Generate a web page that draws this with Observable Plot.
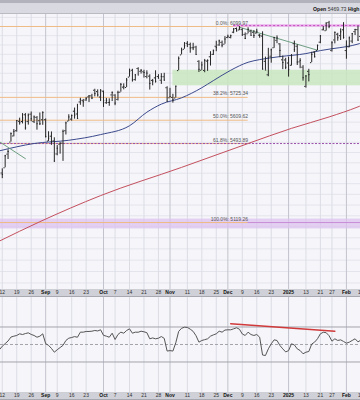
<!DOCTYPE html>
<html><head><meta charset="utf-8">
<script src="https://cdn.jsdelivr.net/npm/d3@7"></script>
<script src="https://cdn.jsdelivr.net/npm/@observablehq/plot@0.6"></script>
<style>
html,body{margin:0;padding:0;background:#fff;}
#wrap{width:360px;height:400px;overflow:hidden;position:relative;font-family:"Liberation Sans",Arial,sans-serif;}
#hdr{height:14px;position:relative;overflow:hidden;background:linear-gradient(to bottom,#b1b2bb 0,#b1b2bb 3px,#d9dae1 3px,#d9dae1 13px,#b9bac2 13px,#b9bac2 14px);}
#hdr .t{position:absolute;left:313px;top:6px;font-size:5.2px;line-height:6px;white-space:nowrap;color:#111;}
#price{height:283px;background:linear-gradient(to bottom,#f5f5fa 0,#f5f5fa 275px,#a7a8b0 275px,#a7a8b0 276px,#d0d1d8 276px,#d0d1d8 282px,#a7a8b0 282px,#a7a8b0 283px);}
#rsi{height:103px;background:linear-gradient(to bottom,#f5f5fa 0,#f5f5fa 95px,#a7a8b0 95px,#a7a8b0 96px,#d0d1d8 96px,#d0d1d8 102px,#a7a8b0 102px,#a7a8b0 103px);}
svg{display:block}
</style></head>
<body>
<div id="wrap">
  <div id="hdr"><div class="t"><b>Open</b> <span style="color:#333">5469.73</span> <b>High</b></div></div>
  <div id="price"></div>
  <div id="rsi"></div>
</div>
<script>
// ---------- DATA ----------
const dates = [
"2024-08-05","2024-08-06","2024-08-07","2024-08-08","2024-08-09",
"2024-08-12","2024-08-13","2024-08-14","2024-08-15","2024-08-16",
"2024-08-19","2024-08-20","2024-08-21","2024-08-22","2024-08-23",
"2024-08-26","2024-08-27","2024-08-28","2024-08-29","2024-08-30",
"2024-09-03","2024-09-04","2024-09-05","2024-09-06",
"2024-09-09","2024-09-10","2024-09-11","2024-09-12","2024-09-13",
"2024-09-16","2024-09-17","2024-09-18","2024-09-19","2024-09-20",
"2024-09-23","2024-09-24","2024-09-25","2024-09-26","2024-09-27",
"2024-09-30","2024-10-01","2024-10-02","2024-10-03","2024-10-04",
"2024-10-07","2024-10-08","2024-10-09","2024-10-10","2024-10-11",
"2024-10-14","2024-10-15","2024-10-16","2024-10-17","2024-10-18",
"2024-10-21","2024-10-22","2024-10-23","2024-10-24","2024-10-25",
"2024-10-28","2024-10-29","2024-10-30","2024-10-31","2024-11-01",
"2024-11-04","2024-11-05","2024-11-06","2024-11-07","2024-11-08",
"2024-11-11","2024-11-12","2024-11-13","2024-11-14","2024-11-15",
"2024-11-18","2024-11-19","2024-11-20","2024-11-21","2024-11-22",
"2024-11-25","2024-11-26","2024-11-27","2024-11-29",
"2024-12-02","2024-12-03","2024-12-04","2024-12-05","2024-12-06",
"2024-12-09","2024-12-10","2024-12-11","2024-12-12","2024-12-13",
"2024-12-16","2024-12-17","2024-12-18","2024-12-19","2024-12-20",
"2024-12-23","2024-12-24","2024-12-26","2024-12-27",
"2024-12-30","2024-12-31","2025-01-02","2025-01-03",
"2025-01-06","2025-01-07","2025-01-08","2025-01-10",
"2025-01-13","2025-01-14","2025-01-15","2025-01-16","2025-01-17",
"2025-01-21","2025-01-22","2025-01-23","2025-01-24",
"2025-01-27","2025-01-28","2025-01-29","2025-01-30","2025-01-31",
"2025-02-03","2025-02-04","2025-02-05","2025-02-06","2025-02-07",
"2025-02-10"];

const opens = [
5151,5206,5293,5252,5314, 5351,5376,5442,5501,5531, 5557,5604,5603,5637,5603, 5640,5603,5624,5607,5612,
5612,5506,5530,5507, 5443,5490,5496,5557,5605, 5615,5655,5641,5702,5709, 5712,5728,5733,5762,5755,
5727,5757,5698,5699,5738, 5737,5715,5752,5778,5776, 5830,5866,5817,5875,5860, 5858,5833,5835,5813,5826,
5833,5814,5832,5775,5723, 5725,5722,5864,5947,5977, 6009,6003,5985,5989,5913, 5866,5865,5914,5937,5950,
5993,6000,6014,6004, 6040,6041,6069,6089,6081, 6083,6057,6060,6074,6068, 6064,6053,6048,5913,5842,
5940,5985,6025,6006, 5921,5920,5904,5892, 6007,5993,5910,5882, 5782,5860,5906,5962,5970,
6015,6082,6077,6121, 5970,6027,6058,6050,6082, 5970,5990,6021,6072,6083, 6046];

const highs = [
5250,5312,5330,5328,5358, 5371,5436,5463,5546,5563, 5608,5620,5643,5643,5641, 5651,5631,5628,5646,5652,
5616,5552,5551,5522, 5484,5497,5560,5600,5637, 5636,5671,5690,5721,5715, 5725,5735,5741,5767,5764,
5765,5758,5720,5718,5753, 5739,5757,5797,5795,5823, 5872,5871,5843,5879,5870, 5866,5863,5842,5818,5863,
5843,5848,5850,5780,5772, 5741,5783,5936,5983,6013, 6018,6010,6009,5993,5916, 5909,5923,5921,5964,5973,
6020,6026,6021,6045, 6053,6053,6089,6092,6100, 6088,6065,6093,6080,6078, 6085,6057,6071,5935,5982,
5978,6041,6049,6007, 5941,5929,5935,5949, 6021,6001,5927,5890, 5838,5871,5961,5964,6000,
6051,6100,6119,6128, 6018,6070,6063,6087,6121, 6022,6043,6062,6084,6101, 6073];

const lows = [
5119,5193,5195,5242,5300, 5324,5376,5416,5501,5527, 5550,5585,5591,5560,5585, 5602,5593,5560,5583,5584,
5521,5504,5485,5403, 5434,5442,5407,5536,5604, 5605,5615,5615,5685,5675, 5705,5699,5714,5728,5727,
5704,5674,5690,5680,5704, 5683,5707,5752,5764,5776, 5830,5804,5809,5840,5846, 5825,5821,5763,5785,5799,
5822,5792,5810,5703,5723, 5696,5722,5864,5947,5977, 5986,5956,5970,5947,5854, 5865,5853,5860,5888,5944,
5964,5993,5985,6004, 6034,6033,6061,6071,6077, 6048,6029,6060,6050,6035, 6060,6036,5867,5866,5832,
5903,5982,6007,5932, 5869,5869,5830,5888, 5960,5891,5874,5809, 5773,5805,5906,5931,5970,
6007,6076,6075,6088, 5962,6006,6020,6024,6031, 5924,5985,6007,6051,6020, 6044];

const closes = [
5186,5240,5200,5319,5344, 5344,5434,5455,5543,5554, 5608,5597,5621,5571,5635, 5617,5626,5592,5592,5648,
5529,5520,5503,5408, 5471,5496,5554,5596,5626, 5633,5635,5618,5714,5703, 5719,5733,5722,5745,5738,
5762,5709,5710,5700,5751, 5696,5751,5792,5780,5815, 5860,5815,5842,5841,5865, 5854,5851,5797,5810,5808,
5824,5833,5814,5705,5729, 5713,5783,5929,5973,5996, 6001,5984,5985,5949,5871, 5894,5917,5917,5949,5969,
5987,6022,5999,6032, 6047,6050,6086,6075,6090, 6053,6035,6084,6051,6051, 6074,6051,5872,5867,5931,
5974,6040,6038,5971, 5907,5882,5869,5942, 5975,5909,5918,5827, 5836,5843,5950,5937,5997,
6049,6086,6119,6101, 6012,6068,6039,6071,6041, 5995,6038,6061,6084,6026, 6066];

const rsiValues = [
30,37,35,43,44, 48,51,54,58.5,59.5, 60.3,62.2,61.4,62.5,63.3, 61.5,60.3,58.3,59.5,62.2,
51,49,45.5,41.2, 44,46.5,49,54.6,57.2, 58,59,58.3,64.1,64.1, 64.9,64.9,65.2,66,65.5,
66.8,60.5,59.5,58.3,62.9, 55.7,61.4,64.1,62.9,66, 67.9,62.9,64.1,64,65.2, 64.5,63.5,56.5,57.5,56.5,
57.2,59.1,57,42.5,43, 42.5,52,65,68.5,69.8, 69.5,67.5,65,60,52.7, 54.6,55.5,56.5,59.5,61,
62.2,65.2,64.1,66.5, 66.8,66.8,67.9,69.1,67.5, 62,60.3,64.1,61.4,60.3, 61.4,58.3,38,37.4,45,
50.8,55.3,54.6,48.9, 45,41.5,43,50.8, 49.5,45,43.1,39.4, 41.2,42,50.5,52.7,56.5,
62.2,64,63.5,60, 53.8,56.5,54.6,55.3,53.5, 51.5,52.7,54.6,56.5,53, 55];

// 50-day moving average
const ma50Dates = ["2024-08-09","2024-08-27","2024-09-13","2024-09-30","2024-10-14","2024-10-22","2024-10-29","2024-11-07","2024-11-18","2024-11-22","2024-12-03","2024-12-11","2024-12-17","2024-12-27","2025-01-13","2025-01-21","2025-01-27","2025-02-03","2025-02-07","2025-02-10"];
const ma50Values = [5458,5494,5510,5538,5582,5650,5691,5723,5775,5812,5866,5908,5922,5938,5954,5970,5980,5991,6005,6010];
// 200-day moving average
const ma200Dates = ["2024-08-09","2024-08-29","2024-09-30","2024-11-07","2024-12-11","2025-01-03","2025-01-24","2025-02-07","2025-02-10"];
const ma200Values = [5035,5123,5244,5378,5494,5569,5626,5677,5683];

// Fibonacci retracement (Aug 5 low -> Dec 6 high)
const fibLabels = ["0.0%: 6099.97","38.2%: 5725.34","50.0%: 5609.62","61.8%: 5493.89","100.0%: 5119.26"];
const fibPrices = [6099.97,5725.34,5609.62,5493.89,5119.26];
const fibFrom = "2024-08-05", fibTo = "2024-12-11";

// annotation levels / zones / trendlines
const resistancePrice = 6105, resistanceFrom = "2024-12-04";
const supportZone = [5785, 5866], supportZoneFrom = "2024-11-04";
const fib100Zone = [5090, 5135];
const trendDates = ["2024-12-06","2025-01-17"], trendValues = [6096, 5972];
const shortTrendDates = ["2024-08-09","2024-08-22"], shortTrendValues = [5503, 5420];
const rsiTrendDates = ["2024-12-03","2025-01-28"], rsiTrendValues = [73.6, 65.2];
const rsiLevels = [70, 30], rsiMid = 50;

// date axis
const tickDates = ["2024-08-12","2024-08-19","2024-08-26","2024-09-03","2024-09-09","2024-09-16","2024-09-23","2024-10-01","2024-10-07","2024-10-14","2024-10-21","2024-10-28","2024-11-01","2024-11-11","2024-11-18","2024-11-25","2024-12-02","2024-12-09","2024-12-16","2024-12-23","2025-01-02","2025-01-13","2025-01-21","2025-01-27","2025-02-03","2025-02-10"];
const tickLabels = ["12","19","26","Sep","9","16","23","Oct","7","14","21","28","Nov","11","18","25","Dec","9","16","23","2025","13","21","27","Feb","10"];
const majorTicks = ["Sep","Oct","Nov","Dec","2025","Feb"];
const gridPrices = d3.range(4850, 6200, 50);

// ---------- BUILD ----------
const P = new Map(dates.map((d, k) => [d, k]));
const last = dates.length;
const bars = dates.map((d, k) => ({pos: k, open: opens[k], high: highs[k], low: lows[k], close: closes[k], rsi: rsiValues[k]}));
const ma50 = ma50Dates.map((d, k) => ({pos: P.get(d), v: ma50Values[k]}));
const ma200 = ma200Dates.map((d, k) => ({pos: P.get(d), v: ma200Values[k]}));
const fib = fibPrices.map((p, k) => ({price: p, label: fibLabels[k], x1: P.get(fibFrom), x2: P.get(fibTo)}));
const ticks = tickDates.map((d, k) => ({pos: P.get(d), label: tickLabels[k], major: majorTicks.includes(tickLabels[k])}));
const trend = trendDates.map((d, k) => ({pos: P.get(d), v: trendValues[k]}));
const shortTrend = shortTrendDates.map((d, k) => ({pos: P.get(d), v: shortTrendValues[k]}));
const rsiTrend = rsiTrendDates.map((d, k) => ({pos: P.get(d), v: rsiTrendValues[k]}));

const FONT = "Liberation Sans, Arial, sans-serif";
const xScale = {domain: [4.385, 128.87], axis: null};
const gridMarks = [
  Plot.ruleX(ticks.filter(d => !d.major), {x: "pos", stroke: "#dcdce5", strokeWidth: 1}),
  Plot.ruleX(ticks.filter(d => d.major), {x: "pos", stroke: "#c2c3cc", strokeWidth: 1})
];
const labelMarks = [
  Plot.text(ticks.filter(d => !d.major), {x: "pos", text: "label", frameAnchor: "bottom", dy: 4, fontSize: 5, fill: "#333"}),
  Plot.text(ticks.filter(d => d.major), {x: "pos", text: "label", frameAnchor: "bottom", dy: 4, fontSize: 5, fontWeight: "bold", fill: "#111"})
];

const price = Plot.plot({
  width: 360, height: 283,
  marginTop: 0, marginBottom: 8, marginLeft: 0, marginRight: 0,
  style: {background: "transparent", fontFamily: FONT, overflow: "hidden"},
  x: xScale,
  y: {type: "log", domain: [4821.65, 6165.77], axis: null},
  marks: [
    Plot.frame({fill: "#f5f5fa"}),
    Plot.ruleY(gridPrices, {stroke: "#e4e4ec"}),
    ...gridMarks,
    Plot.rect([fib100Zone], {x1: 0, x2: last, y1: d => d[0], y2: d => d[1], fill: "#dcc2ee", fillOpacity: 0.75, clip: true}),
    Plot.ruleY([fibPrices[4]], {stroke: "#c98fd6", strokeWidth: 1}),
    Plot.rect([supportZone], {x1: P.get(supportZoneFrom), x2: last, y1: d => d[0], y2: d => d[1], fill: "#c9e8c0", fillOpacity: 0.85, clip: true}),
    Plot.ruleY(fib, {y: "price", x1: "x1", x2: "x2", stroke: "#efbb86", strokeWidth: 1, clip: true}),
    Plot.ruleY([fibPrices[3]], {stroke: "#9b4fab", strokeWidth: 1, strokeDasharray: "2,1.5"}),
    Plot.ruleY([resistancePrice], {x1: P.get(resistanceFrom), x2: last, stroke: "#eab0ea", strokeWidth: 2.5, clip: true}),
    Plot.ruleY([resistancePrice], {x1: P.get(resistanceFrom), x2: last, stroke: "#c44ec4", strokeWidth: 1, strokeDasharray: "2,2", clip: true}),
    Plot.line(ma200, {x: "pos", y: "v", curve: "monotone-x", stroke: "#c4505e", strokeWidth: 1, clip: true}),
    Plot.line(ma50, {x: "pos", y: "v", curve: "monotone-x", stroke: "#3c4a8c", strokeWidth: 1, clip: true}),
    Plot.line(trend, {x: "pos", y: "v", stroke: "#6f9f82", strokeWidth: 1, clip: true}),
    Plot.line(shortTrend, {x: "pos", y: "v", stroke: "#6f9f82", strokeWidth: 1, clip: true}),
    Plot.ruleX(bars, {x: "pos", y1: "low", y2: "high", stroke: "#262626", strokeWidth: 1, clip: true}),
    Plot.ruleY(bars, {y: "open", x1: d => d.pos - 0.42, x2: "pos", stroke: "#262626", strokeWidth: 1, clip: true}),
    Plot.ruleY(bars, {y: "close", x1: "pos", x2: d => d.pos + 0.42, stroke: "#262626", strokeWidth: 1, clip: true}),
    Plot.text(fib, {x: "x2", y: "price", text: "label", textAnchor: "end", dy: -3.5, fontSize: 5, fill: "#555"}),
    ...labelMarks
  ]
});
document.getElementById("price").appendChild(price);

const rsi = Plot.plot({
  width: 360, height: 103,
  marginTop: 0, marginBottom: 8, marginLeft: 0, marginRight: 0,
  style: {background: "transparent", fontFamily: FONT, overflow: "hidden"},
  x: xScale,
  y: {domain: [-4.86, 103.71], axis: null},
  marks: [
    Plot.frame({fill: "#f5f5fa"}),
    ...gridMarks,
    Plot.ruleY(rsiLevels, {stroke: "#a3a3ab", strokeWidth: 1}),
    Plot.ruleY([rsiMid], {stroke: "#a3a3ab", strokeWidth: 1, strokeDasharray: "3,2"}),
    Plot.line(bars, {x: "pos", y: "rsi", stroke: "#555", strokeWidth: 1, clip: true}),
    Plot.line(rsiTrend, {x: "pos", y: "v", stroke: "#d03a3a", strokeWidth: 1.5, clip: true}),
    ...labelMarks
  ]
});
document.getElementById("rsi").appendChild(rsi);
</script>
</body></html>
